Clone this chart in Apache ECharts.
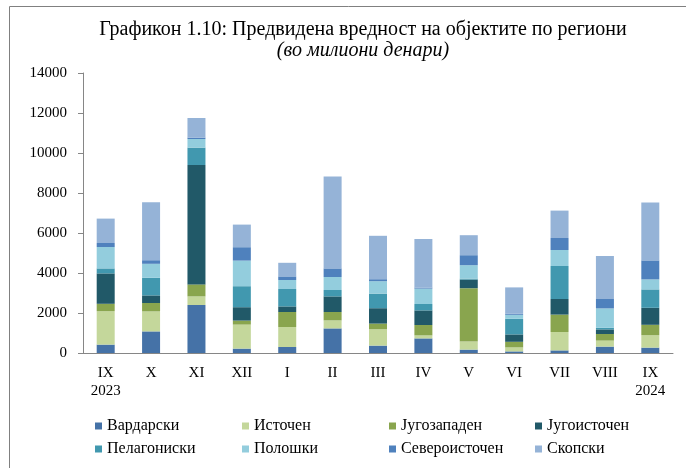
<!DOCTYPE html>
<html>
<head>
<meta charset="utf-8">
<script src="https://cdn.jsdelivr.net/npm/echarts@6/dist/echarts.min.js"></script>
<style>
    html, body { margin: 0; padding: 0; background: #fff; }
    #chart { width: 686px; height: 468px; }
</style>
</head>
<body>
<div id="chart"></div>
<script>
var months = ['IX\n2023', 'X', 'XI', 'XII', 'I', 'II', 'III', 'IV', 'V', 'VI', 'VII', 'VIII', 'IX\n2024'];
var yTicks = [0, 2000, 4000, 6000, 8000, 10000, 12000, 14000];

var vardarski      = [420, 1080, 2400, 220, 300, 1230, 370, 730, 170, 80, 130, 320, 270];
var istochen       = [1670, 1000, 430, 1200, 1000, 400, 820, 150, 400, 200, 920, 300, 620];
var jugozapaden    = [370, 420, 600, 200, 750, 420, 280, 520, 2670, 280, 870, 330, 520];
var jugoistochen   = [1520, 380, 5970, 670, 280, 780, 770, 730, 430, 370, 780, 230, 850];
var pelagoniski    = [250, 880, 870, 1050, 870, 320, 730, 320, 50, 780, 1650, 80, 920];
var poloshki       = [1070, 700, 430, 1280, 450, 650, 620, 770, 670, 200, 800, 970, 500];
var severoistochen = [200, 180, 70, 670, 180, 430, 100, 50, 500, 50, 600, 470, 950];
var skopski        = [1220, 2900, 980, 1130, 680, 4600, 2170, 2430, 1000, 1320, 1370, 2150, 2900];

var names = ['Вардарски', 'Источен', 'Југозападен', 'Југоисточен',
             'Пелагониски', 'Полошки', 'Североисточен', 'Скопски'];
var colors = ['#4572A7', '#C4D79B', '#89A54E', '#215968',
              '#4198AF', '#93CDDD', '#4F81BD', '#95B3D7'];
var values = [vardarski, istochen, jugozapaden, jugoistochen,
              pelagoniski, poloshki, severoistochen, skopski];

var font = 'Liberation Serif';

var series = names.map(function (n, i) {
    return {
        name: n,
        type: 'bar',
        stack: 'total',
        barWidth: 18,
        data: values[i],
        itemStyle: { color: colors[i] }
    };
});

// one legend per entry so the columns line up like in the original
var colX = [95, 242, 389, 535];
var rowY = [418, 441];
var legends = names.map(function (n, i) {
    return {
        data: [n],
        left: colX[i % 4],
        top: rowY[Math.floor(i / 4)],
        padding: 0,
        itemWidth: 7,
        itemHeight: 7,
        itemGap: 0,
        icon: 'rect',
        selectedMode: false,
        textStyle: { fontFamily: font, fontSize: 16, color: '#000' }
    };
});

var option = {
    animation: false,
    color: colors,
    graphic: [{
        type: 'rect',
        shape: { x: 9.5, y: 6.5, width: 690, height: 470 },
        style: { fill: 'none', stroke: '#808080', lineWidth: 1 }
    }],
    title: {
        text: 'Графикон 1.10: Предвидена вредност на објектите по региони',
        subtext: '(во милиони денари)',
        left: 358,
        textAlign: 'center',
        top: 15,
        itemGap: 1,
        textStyle: { fontFamily: font, fontSize: 20, fontWeight: 'normal', color: '#000' },
        subtextStyle: { fontFamily: font, fontSize: 20, fontStyle: 'italic', color: '#000' }
    },
    legend: legends,
    grid: {
        left: 83,
        right: 13,
        top: 73,
        bottom: 115
    },
    xAxis: {
        type: 'category',
        data: months,
        axisLine: { lineStyle: { color: '#868686' } },
        axisTick: { length: 4, lineStyle: { color: '#868686' } },
        axisLabel: {
            fontFamily: font, fontSize: 15, color: '#000',
            margin: 11, lineHeight: 18, interval: 0
        }
    },
    yAxis: {
        type: 'value',
        min: yTicks[0],
        max: yTicks[yTicks.length - 1],
        interval: 2000,
        splitLine: { show: false },
        axisLine: { show: true, lineStyle: { color: '#868686' } },
        axisTick: { show: true, length: 5, lineStyle: { color: '#868686' } },
        axisLabel: {
            fontFamily: font, fontSize: 15, color: '#000', margin: 16,
            formatter: function (v) { return String(v); }
        }
    },
    series: series
};

var chart = echarts.init(document.getElementById('chart'));
chart.setOption(option);
</script>
</body>
</html>
